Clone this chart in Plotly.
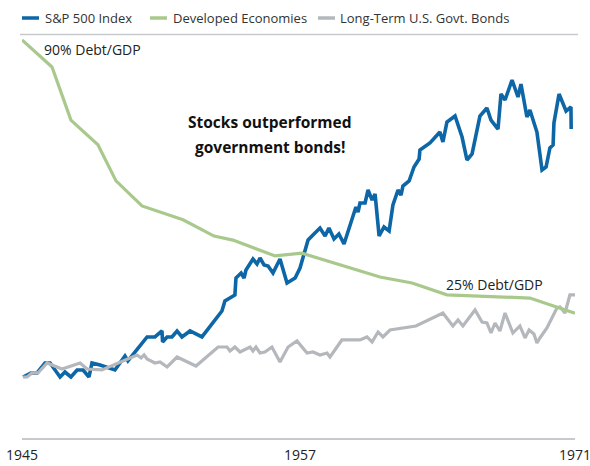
import plotly.graph_objects as go

# S&P 500 Index, growth of $100
sp_years = [1945.05, 1945.42, 1945.71, 1946.08, 1946.32, 1946.55, 1946.79, 1947.02, 1947.30, 1947.59,
            1947.87, 1948.15, 1948.29, 1948.67, 1949.37, 1949.84, 1949.98, 1950.88, 1951.25, 1951.58,
            1951.61, 1951.82, 1952.05, 1952.29, 1952.52, 1952.90, 1953.46, 1954.40, 1954.54, 1955.01,
            1955.06, 1955.30, 1955.44, 1955.53, 1955.86, 1956.05, 1956.19, 1956.38, 1956.57, 1956.80,
            1957.13, 1957.46, 1957.84, 1958.07, 1958.45, 1958.68, 1959.01, 1959.25, 1959.43, 1959.67,
            1959.90, 1960.14, 1960.70, 1960.80, 1960.89, 1961.13, 1961.27, 1961.46, 1961.60, 1961.79,
            1962.02, 1962.26, 1962.44, 1962.68, 1962.82, 1962.91, 1963.20, 1963.43, 1963.67, 1963.71,
            1964.18, 1964.65, 1964.79, 1964.98, 1965.36, 1965.69, 1965.92, 1966.16, 1966.53, 1966.86,
            1967.05, 1967.38, 1967.52, 1967.71, 1968.04, 1968.32, 1968.46, 1968.74, 1968.88, 1969.21,
            1969.45, 1969.64, 1969.82, 1969.97, 1970.01, 1970.25, 1970.58, 1970.81, 1970.82]
sp_values = [100, 106.7, 106.7, 123.3, 123.3, 111.7, 100, 108.3, 100, 111.7,
             111.7, 100, 123.3, 120, 111.7, 135, 126.7, 166.7, 166.7, 176.7,
             158.3, 166.7, 166.7, 176.7, 166.7, 176.7, 166.7, 210, 226.7, 236.7,
             265, 273.3, 265, 278.3, 296.7, 288.3, 298.3, 286.7, 285, 273.3,
             296.7, 256.7, 265, 281.7, 328.3, 336.7, 348.3, 335, 348.3, 330,
             338.3, 321.7, 383.3, 375, 390, 390, 411.7, 395, 405, 335,
             350, 343.3, 386.7, 411.7, 403.3, 418.3, 426.7, 450, 463.3, 478.3,
             490, 508.3, 491.7, 525, 535, 500, 461.7, 471.7, 535, 548.3,
             528.3, 513.3, 571.7, 561.7, 595, 566.7, 588.3, 533.3, 545, 508.3,
             445, 450, 481.7, 486.7, 523.3, 571.7, 543.3, 550, 513.3]

# Long-Term U.S. Govt. Bonds, growth of $100
bond_years = [1945.05, 1945.24, 1945.47, 1945.75, 1946.18, 1946.88, 1947.73, 1948.06, 1948.76, 1949.28,
              1949.94, 1950.41, 1950.60, 1950.74, 1950.88, 1951.25, 1951.49, 1951.82, 1952.29, 1953.18,
              1954.22, 1954.64, 1954.78, 1955.01, 1955.25, 1955.72, 1955.86, 1956.00, 1956.19, 1956.42,
              1956.75, 1957.13, 1957.51, 1957.93, 1958.40, 1958.68, 1959.01, 1959.34, 1959.48, 1960.04,
              1960.89, 1961.22, 1961.46, 1961.74, 1961.97, 1962.30, 1963.52, 1964.79, 1965.26, 1965.50,
              1965.73, 1966.30, 1966.63, 1966.86, 1967.05, 1967.24, 1967.47, 1967.71, 1968.08, 1968.41,
              1968.65, 1968.84, 1969.07, 1969.21, 1969.35, 1969.68, 1970.15, 1970.29, 1970.53, 1970.76,
              1971.0]
bond_values = [100, 100, 106.7, 106.7, 123.3, 113.3, 123.3, 113.3, 111.7, 120,
               130, 136.7, 131.7, 136.7, 130, 123.3, 125, 116.7, 133.3, 118.3,
               150, 150, 143.3, 150, 141.7, 150, 143.3, 150, 140, 141.7,
               150, 125, 150, 160, 140, 141.7, 136.7, 140, 133.3, 161.7,
               161.7, 166.7, 158.3, 175, 166.7, 178.3, 185, 206.7, 185, 195,
               185, 211.7, 191.7, 190, 173.3, 190, 176.7, 206.7, 173.3, 185,
               165, 178.3, 171.7, 156.7, 165, 181.7, 215, 216.7, 206.7, 236.7,
               236.7]

# Developed Economies, government debt as % of GDP
debt_years = [1945.0, 1946.41, 1947.30, 1948.57, 1949.42, 1950.64, 1952.57, 1954.03, 1954.92, 1956.90,
              1958.16, 1961.83, 1963.34, 1964.98, 1968.88, 1971.0]
debt_pct = [90, 83.2, 69.8, 63.6, 54.5, 48.2, 44.7, 40.6, 39.6, 35.6,
            36.3, 30.3, 28.8, 25.8, 25.0, 21.2]

tick_pos = [1945, 1958.07, 1971]
tick_text = ["1945", "1957", "1971"]

names = ["S&P 500 Index", "Developed Economies", "Long-Term U.S. Govt. Bonds"]
colors = {"S&P 500 Index": "#0d66a6", "Developed Economies": "#a9c98c",
          "Long-Term U.S. Govt. Bonds": "#b4b8bc"}

W, H = 590, 466
L, R, T, B = 22, 15, 34, 28


def px(x):
    return (x - L) / (W - L - R)


def py(y):
    return (H - B - y) / (H - T - B)


fig = go.Figure()

fig.add_trace(go.Scatter(x=debt_years, y=debt_pct, mode="lines", yaxis="y2",
                         line=dict(color=colors["Developed Economies"], width=3.2),
                         name="Developed Economies"))
fig.add_trace(go.Scatter(x=sp_years, y=sp_values, mode="lines",
                         line=dict(color=colors["S&P 500 Index"], width=3.6),
                         name="S&P 500 Index"))
fig.add_trace(go.Scatter(x=bond_years, y=bond_values, mode="lines",
                         line=dict(color=colors["Long-Term U.S. Govt. Bonds"], width=3.2),
                         name="Long-Term U.S. Govt. Bonds"))

# hand-built legend
leg_items = [(22, 43), (150, 171), (318, 338)]
for (sx, tx), name in zip(leg_items, names):
    fig.add_shape(type="line", xref="paper", yref="paper",
                  x0=px(sx), x1=px(sx + 17), y0=py(18), y1=py(18),
                  line=dict(color=colors[name], width=3.5))
    fig.add_annotation(xref="paper", yref="paper", x=px(tx), y=py(18),
                       xanchor="left", yanchor="middle", showarrow=False,
                       text=name, font=dict(size=13, color="#333333"))

# rule under the legend
fig.add_shape(type="line", xref="paper", yref="paper",
              x0=px(20), x1=px(578), y0=py(34.5), y1=py(34.5),
              line=dict(color="#c6cacd", width=1.5))


def note(x, y, text, size, color):
    fig.add_annotation(xref="paper", yref="paper", x=px(x), y=py(y),
                       xanchor="center", yanchor="middle", showarrow=False,
                       text=text, font=dict(size=size, color=color))


note(92, 49, "90% Debt/GDP", 14, "#222222")
note(494, 284, "25% Debt/GDP", 14, "#222222")
note(270, 122, "<b>Stocks outperformed</b>", 15.5, "#111111")
note(270, 147, "<b>government bonds!</b>", 15.5, "#111111")

fig.update_xaxes(range=[1945, 1971], tickvals=tick_pos, ticktext=tick_text,
                 showgrid=False, zeroline=False, showline=True,
                 linecolor="#c6cacd", linewidth=1.5, ticks="",
                 automargin=False, ticklabeloverflow="allow",
                 ticklabelstandoff=3,
                 tickfont=dict(size=14, color="#222222"))
fig.update_layout(
    width=W, height=H,
    margin=dict(l=L, r=R, t=T, b=B),
    plot_bgcolor="white", paper_bgcolor="white",
    font=dict(family="Open Sans, sans-serif"),
    showlegend=False,
    yaxis=dict(range=[-1.7, 671.7], visible=False, automargin=False),
    yaxis2=dict(range=[-10.25, 91.5], overlaying="y", visible=False, automargin=False),
)

fig.write_html("out.html", config={"displayModeBar": False},
               post_script="document.body.style.margin='0px';")
